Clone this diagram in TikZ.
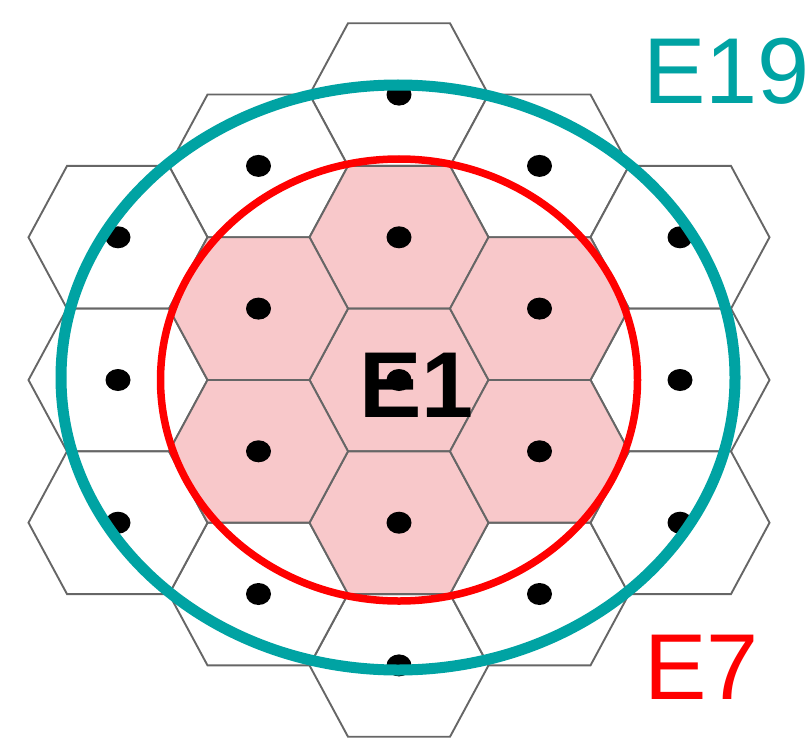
\documentclass[tikz,border=0pt]{standalone}
\usepackage{fontspec}
\setmainfont{Liberation Sans}
\definecolor{ringteal}{RGB}{0,163,163}
\definecolor{ringred}{RGB}{255,0,0}
\definecolor{cellpink}{RGB}{248,200,202}
\begin{document}
\begin{tikzpicture}[
    x=1pt, y=-1pt,
    cell/.style={
        draw=black!60,
        line width=1.9pt,
        fill=white
    },
    inner/.style={cell, fill=cellpink},
    tag/.style={
        anchor=base west,
        inner sep=0pt,
        font=\fontsize{93.6}{100}\selectfont
    }
]
\useasboundingbox (0,0) rectangle (810,738);

% outer ring of cells
\foreach \cx/\cy in {399/94.6, 399/665.4,
                     258.5/165.9, 258.5/594, 539.5/165.9, 539.5/594,
                     118/237.3, 118/380, 118/522.7,
                     680/237.3, 680/380, 680/522.7}
    \draw[cell] (\cx,\cy) ++(-89.5,0) -- ++(38.5,-71.35) -- ++(102,0)
        -- ++(38.5,71.35) -- ++(-38.5,71.35) -- ++(-102,0) -- cycle;

% first ring around E1
\foreach \cx/\cy in {399/237.3, 399/380, 399/522.7,
                     258.5/308.6, 258.5/451.3, 539.5/308.6, 539.5/451.3}
    \draw[inner] (\cx,\cy) ++(-89.5,0) -- ++(38.5,-71.35) -- ++(102,0)
        -- ++(38.5,71.35) -- ++(-38.5,71.35) -- ++(-102,0) -- cycle;

\node[tag, font=\fontsize{93.6}{100}\selectfont\bfseries] (e1) at (359,417) {E1};

% sites
\foreach \cx/\cy in {399/94.6, 399/237.3, 399/380, 399/522.7, 399/665.4,
                     258.5/165.9, 258.5/308.6, 258.5/451.3, 258.5/594,
                     539.5/165.9, 539.5/308.6, 539.5/451.3, 539.5/594,
                     118/237.3, 118/380, 118/522.7,
                     680/237.3, 680/380, 680/522.7}
    \fill (\cx,\cy) ellipse [x radius=12.5, y radius=11];

\draw[ringred, line width=7.5pt] (399,380) ellipse [x radius=238.5, y radius=221];
\draw[ringteal, line width=11pt] (398,377.5) ellipse [x radius=337, y radius=292.5];

\node[tag, text=ringteal] (e19) at (643,104) {E19};
\node[tag, text=ringred] (e7) at (644,699) {E7};

\end{tikzpicture}
\end{document}
